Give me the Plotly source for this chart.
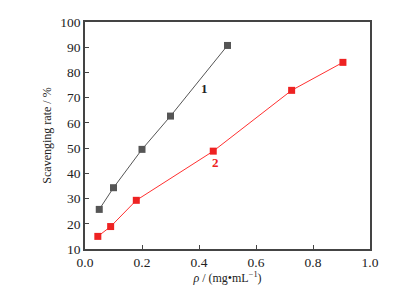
import plotly.graph_objects as go

x1 = [0.05, 0.10, 0.20, 0.30, 0.50]
y1 = [25.7, 34.3, 49.5, 62.7, 90.7]
x2 = [0.045, 0.09, 0.18, 0.45, 0.725, 0.905]
y2 = [15.0, 18.9, 29.3, 48.8, 72.9, 84.0]
xticks = [0.0, 0.2, 0.4, 0.6, 0.8, 1.0]
xticklabels = ["0.0", "0.2", "0.4", "0.6", "0.8", "1.0"]
yticks = [10, 20, 30, 40, 50, 60, 70, 80, 90, 100]

font = "Liberation Serif"
fig = go.Figure()
fig.add_trace(go.Scatter(x=x1, y=y1, mode="lines+markers",
                         line=dict(color="#555555", width=1),
                         marker=dict(symbol="square", size=7, color="#555555"),
                         showlegend=False))
fig.add_trace(go.Scatter(x=x2, y=y2, mode="lines+markers",
                         line=dict(color="#ff3030", width=1),
                         marker=dict(symbol="square", size=7, color="#ee2222"),
                         showlegend=False))
fig.add_annotation(x=0.42, y=73.6, text="<b>1</b>", showarrow=False,
                   font=dict(family=font, size=13, color="#222222"))
fig.add_annotation(x=0.457, y=44.2, text="<b>2</b>", showarrow=False,
                   font=dict(family=font, size=13, color="#ee2222"))
fig.update_layout(
    width=394, height=288,
    margin=dict(l=77, r=32, t=14, b=47, autoexpand=False),
    paper_bgcolor="white", plot_bgcolor="white",
    font=dict(family=font, size=13.5, color="#222222"),
)
fig.update_xaxes(range=[0, 1.0], tickvals=xticks, ticktext=xticklabels,
                 ticks="inside", ticklen=4, tickcolor="#444444",
                 showline=True, linecolor="#444444", linewidth=1.5, mirror=True,
                 showgrid=False, zeroline=False, automargin=False,
                 title=dict(text="<i>ρ</i> / (mg•mL<sup>−1</sup>)", standoff=4,
                            font=dict(size=12)))
fig.update_yaxes(range=[10, 100], tickvals=yticks,
                 ticks="inside", ticklen=4, tickcolor="#444444",
                 showline=True, linecolor="#444444", linewidth=1.5, mirror=True,
                 showgrid=False, zeroline=False, automargin=False,
                 title=dict(text="Scavenging rate / %", standoff=6,
                            font=dict(size=12)))
fig.write_html("out.html")
